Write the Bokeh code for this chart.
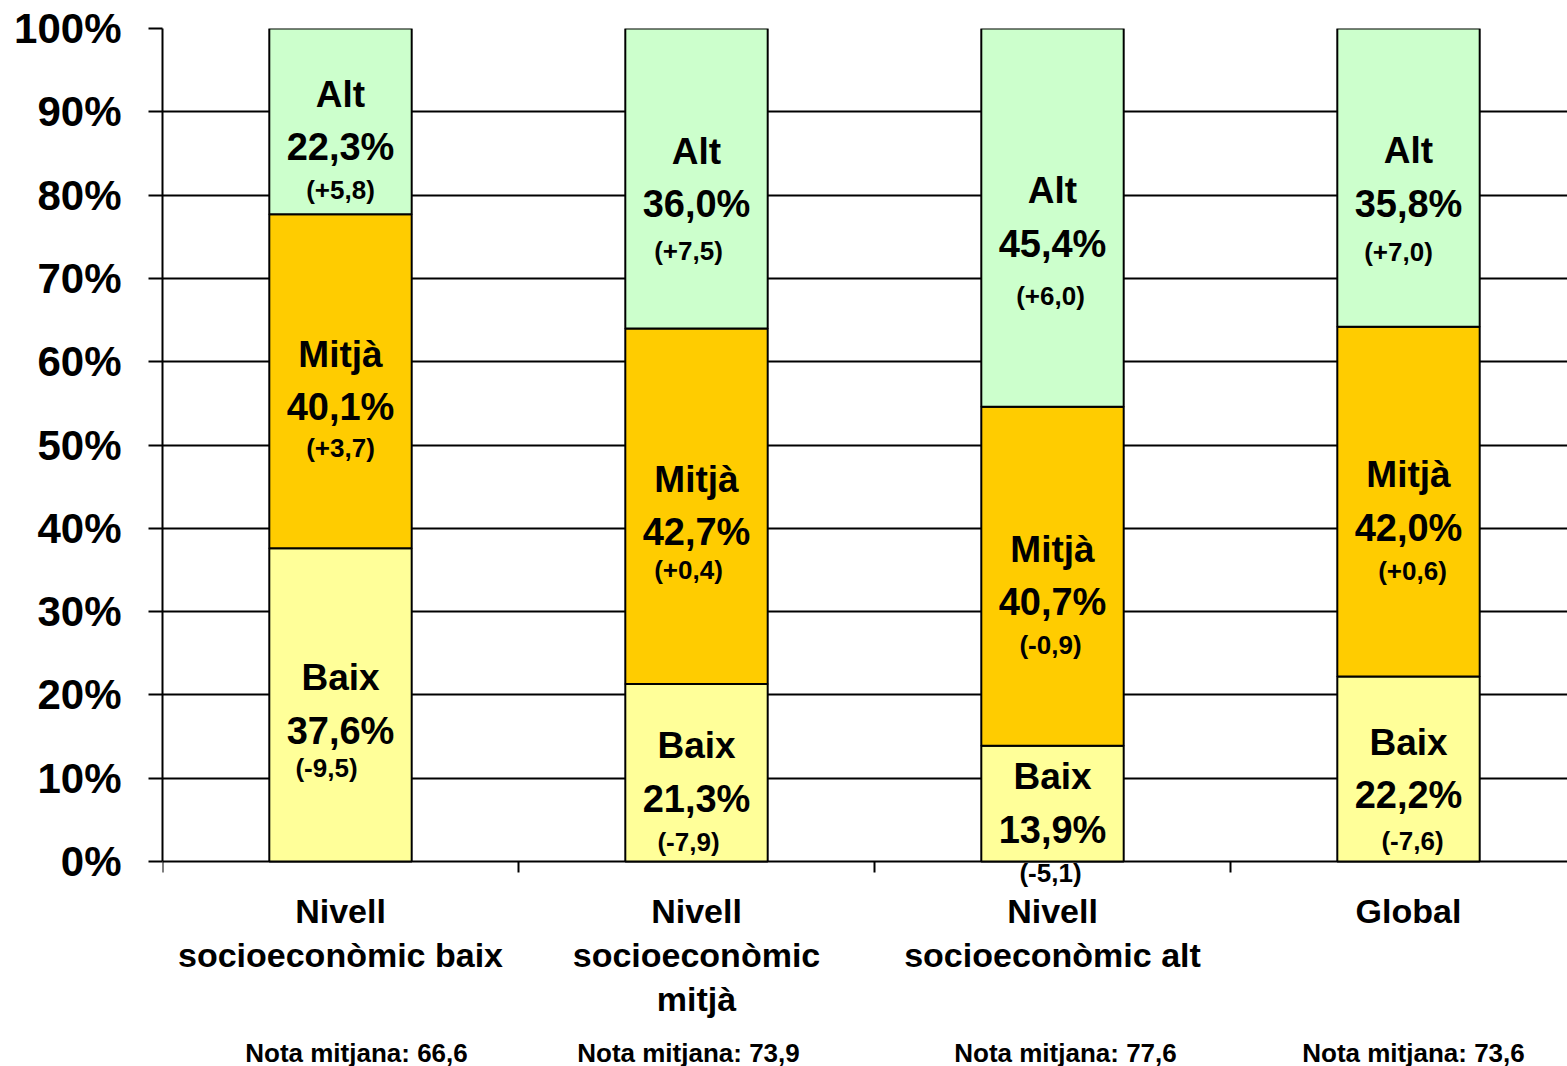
import numpy as np
from bokeh.plotting import figure
from bokeh.models import (ColumnDataSource, LabelSet, FixedTicker,
                          PrintfTickFormatter, Range1d)
from bokeh.core.properties import value
from bokeh.embed import file_html
from bokeh.resources import INLINE

# ---------------- data ----------------
categories = ["Nivell socioeconòmic baix", "Nivell socioeconòmic mitjà",
              "Nivell socioeconòmic alt", "Global"]
category_lines = [["Nivell", "socioeconòmic baix"],
                  ["Nivell", "socioeconòmic", "mitjà"],
                  ["Nivell", "socioeconòmic alt"],
                  ["Global"]]
levels = ["Baix", "Mitjà", "Alt"]
baix = [37.6, 21.3, 13.9, 22.2]
mitja = [40.1, 42.7, 40.7, 42.0]
alt = [22.3, 36.0, 45.4, 35.8]
baix_change = ["(-9,5)", "(-7,9)", "(-5,1)", "(-7,6)"]
mitja_change = ["(+3,7)", "(+0,4)", "(-0,9)", "(+0,6)"]
alt_change = ["(+5,8)", "(+7,5)", "(+6,0)", "(+7,0)"]
mean_scores = [66.6, 73.9, 77.6, 73.6]
y_ticks = [0, 10, 20, 30, 40, 50, 60, 70, 80, 90, 100]

# ---------------- style / layout ----------------
colors = {"Baix": "#FFFF99", "Mitjà": "#FFCC00", "Alt": "#CCFFCC"}
FONT = "Liberation Sans"
nota_dx = [16, -8, 13, 5]
# small pixel nudges of the "(±x,y)" labels (dx right, dy down)
chg_dx = {"Baix": [-14, -8, -2, 4], "Mitjà": [0, -8, -2, 4], "Alt": [0, -8, -2, -10]}
chg_dy = {"Baix": [-6, 0, 0, 3], "Mitjà": [-2, -5, 0, 0], "Alt": [0, 4, 9, 5]}
PX_PER_UNIT = 833 / 100.0          # vertical scale of the value axis
BELOW_PX = 205                     # room under the 0 % line for the labels
TICK_PX = 11

def fmt(v):
    return f"{v:.1f}".replace(".", ",")

x_centers = np.arange(len(categories)) + 0.5
boundaries = np.arange(len(categories))
series = {"Baix": baix, "Mitjà": mitja, "Alt": alt}
changes = {"Baix": baix_change, "Mitjà": mitja_change, "Alt": alt_change}

p = figure(width=1567, height=1066, output_backend="svg", toolbar_location=None,
           x_range=Range1d(0, 1405 / 356.0),
           y_range=Range1d(-BELOW_PX / PX_PER_UNIT, 100),
           x_axis_location=None,
           min_border_left=162, min_border_right=0, min_border_top=28,
           min_border_bottom=0)
p.background_fill_color = "white"
p.border_fill_color = "white"
p.outline_line_color = None

# category boundary ticks under the 0 % line
p.segment(x0=boundaries, y0=np.zeros(len(boundaries)), x1=boundaries,
          y1=np.full(len(boundaries), -TICK_PX / PX_PER_UNIT),
          line_color="black", line_width=2)

bottom = np.zeros(len(categories))
label_rows = {"x": [], "y": [], "name": [], "pct": [], "chg": [], "cdx": [], "cdy": []}
for lv in levels:
    vals = np.array(series[lv])
    top = bottom + vals
    src = ColumnDataSource(dict(x=x_centers, bottom=bottom, top=top))
    p.vbar(x="x", bottom="bottom", top="top", width=0.4, source=src,
           fill_color=colors[lv], line_color="black", line_width=2)
    for i in range(len(categories)):
        label_rows["x"].append(x_centers[i])
        label_rows["y"].append((bottom[i] + top[i]) / 2)
        label_rows["name"].append(lv)
        label_rows["pct"].append(fmt(vals[i]) + "%")
        label_rows["chg"].append(changes[lv][i])
        label_rows["cdx"].append(chg_dx[lv][i])
        label_rows["cdy"].append(-69 - chg_dy[lv][i])
    bottom = top

lsrc = ColumnDataSource(label_rows)
common = dict(x="x", y="y", source=lsrc, text_align="center", text_baseline="middle",
              text_font=value(FONT), text_font_style="bold", text_color="black")
p.add_layout(LabelSet(text="name", y_offset=27, text_font_size="37px", **common))
p.add_layout(LabelSet(text="pct", y_offset=-26, text_font_size="38px", **common))
p.add_layout(LabelSet(text="chg", x_offset="cdx", y_offset="cdy",
                      text_font_size="26px", **common))

# category labels (one row per text line) and mean scores below the 0 % line
cat_rows = {"x": [], "y": [], "text": [], "dy": []}
for i, lines in enumerate(category_lines):
    for j, t in enumerate(lines):
        cat_rows["x"].append(x_centers[i])
        cat_rows["y"].append(0)
        cat_rows["text"].append(t)
        cat_rows["dy"].append(-(49 + 44 * j))
csrc = ColumnDataSource(cat_rows)
p.add_layout(LabelSet(x="x", y="y", text="text", y_offset="dy", source=csrc,
                      text_align="center", text_baseline="middle",
                      text_font=value(FONT), text_font_style="bold",
                      text_font_size="34px", text_color="black"))

nsrc = ColumnDataSource(dict(x=x_centers, y=np.zeros(len(categories)),
                             dx=nota_dx,
                             text=["Nota mitjana: " + fmt(m) for m in mean_scores]))
p.add_layout(LabelSet(x="x", y="y", text="text", x_offset="dx", y_offset=-191,
                      source=nsrc, text_align="center", text_baseline="middle",
                      text_font=value(FONT), text_font_style="bold",
                      text_font_size="26px", text_color="black"))

# value axis
p.yaxis.bounds = (0, 100)
p.yaxis.ticker = FixedTicker(ticks=y_ticks)
p.yaxis.formatter = PrintfTickFormatter(format="%d%%")
p.yaxis.major_label_text_font = FONT
p.yaxis.major_label_text_font_style = "bold"
p.yaxis.major_label_text_font_size = "42px"
p.yaxis.major_label_text_color = "black"
p.yaxis.major_label_standoff = 27
p.yaxis.axis_line_width = 2
p.yaxis.axis_line_color = "black"
p.yaxis.major_tick_line_width = 2
p.yaxis.major_tick_line_color = "black"
p.yaxis.major_tick_out = 14
p.yaxis.major_tick_in = 0
p.yaxis.minor_tick_line_color = None

p.xgrid.grid_line_color = None
p.ygrid.ticker = FixedTicker(ticks=y_ticks)
p.ygrid.grid_line_color = "black"
p.ygrid.grid_line_width = 2
p.ygrid.grid_line_alpha = 1.0

open("out.html", "w").write(file_html(p, INLINE))
